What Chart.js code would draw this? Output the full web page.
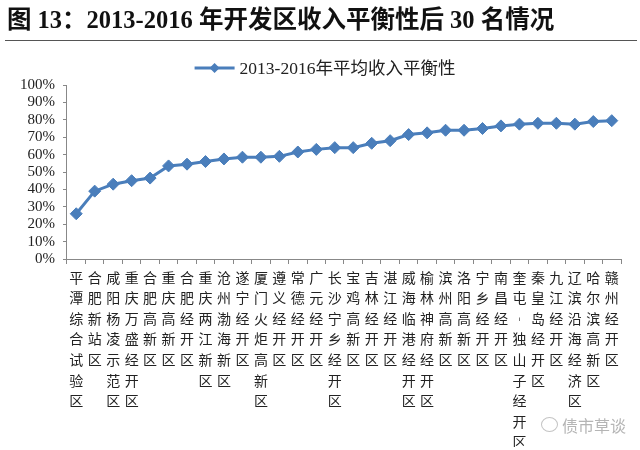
<!DOCTYPE html>
<html>
<head>
<meta charset="utf-8">
<script src="https://cdn.jsdelivr.net/npm/chart.js@4"></script>
<style>
  body { margin: 0; background: #fff; }
  #wrap { position: relative; width: 640px; height: 450px; overflow: hidden; }
  #title {
    position: absolute; left: 7px; top: 0px;
    font: bold 24.5px "Liberation Serif", "Noto Sans CJK SC", serif;
    color: #111; white-space: nowrap;
  }
  #rule { position: absolute; left: 5px; top: 40px; width: 632px; height: 1px; background: #555; }
  #mark {
    position: absolute; left: 562px; top: 413px;
    font: 16px "Noto Sans CJK SC", sans-serif; color: #b5b5b5;
  }
  #icon {
    position: absolute; left: 541px; top: 417px; width: 15px; height: 13px;
    border: 1px solid #c4c4c4; border-radius: 50%;
  }
  canvas { position: absolute; left: 0; top: 0; }
</style>
</head>
<body>
<div id="wrap">
  <canvas id="balanceChart" width="640" height="450"></canvas>
  <div id="title">图 13：2013-2016 年开发区收入平衡性后 30 名情况</div>
  <div id="rule"></div>
  <div id="icon"></div>
  <div id="mark">债市草谈</div>
</div>
<script>
// categories (bottom 30 development zones)
const zones = [
    '平潭综合试验区', '合肥新站区', '咸阳杨凌示范区', '重庆万盛经开区', '合肥高新区',
    '重庆高新区', '合肥经开区', '重庆两江新区', '沧州渤海新区', '遂宁经开区',
    '厦门火炬高新区', '遵义经开区', '常德经开区', '广元经开区', '长沙宁乡经开区',
    '宝鸡高新区', '吉林经开区', '湛江经开区', '威海临港经开区', '榆林神府经开区',
    '滨州高新区', '洛阳高新区', '宁乡经开区', '南昌经开区', '奎屯-独山子经开区',
    '秦皇岛经开区', '九江经开区', '辽滨沿海经济区', '哈尔滨高新区', '赣州经开区'
];
// 2013-2016 average income balance, %
const balance = [
    26, 39, 43, 45, 46.5, 53.5, 54.5, 56, 57.5, 58.5,
    58.5, 59, 61.5, 63, 64, 64, 66.5, 68, 71.5, 72.5,
    74, 74, 75, 76.5, 77.5, 78, 78, 77.5, 79, 79.5
];
const seriesName = '2013-2016年平均收入平衡性';
const yTicks = [0, 10, 20, 30, 40, 50, 60, 70, 80, 90, 100];

const blue = '#4a7ebb';

// legend: line with a diamond, centred above the plot
const lineLegend = {
    id: 'lineLegend',
    afterDraw(chart) {
        const c = chart.ctx;
        c.save();
        c.font = '17.5px "Liberation Serif", "Noto Sans CJK SC", serif';
        const textW = c.measureText(seriesName).width;
        const total = 40 + 5 + textW;
        const x0 = chart.width / 2 + 5 - total / 2;
        const y = 68;
        c.strokeStyle = blue;
        c.lineWidth = 3;
        c.beginPath();
        c.moveTo(x0, y);
        c.lineTo(x0 + 40, y);
        c.stroke();
        c.fillStyle = blue;
        c.beginPath();
        c.moveTo(x0 + 20, y - 5); c.lineTo(x0 + 25, y); c.lineTo(x0 + 20, y + 5); c.lineTo(x0 + 15, y);
        c.closePath();
        c.fill();
        c.fillStyle = '#222';
        c.textBaseline = 'middle';
        c.fillText(seriesName, x0 + 45, y + 1);
        c.restore();
    }
};

const ctx = document.getElementById('balanceChart').getContext('2d');
const balanceChart = new Chart(ctx, {
    type: 'line',
    data: {
        labels: zones,
        datasets: [{
            label: seriesName,
            data: balance,
            borderColor: blue,
            backgroundColor: blue,
            borderWidth: 3,
            tension: 0,
            pointStyle: 'rectRot',
            pointRadius: 6,
            pointBorderWidth: 1,
            pointBackgroundColor: blue,
            pointBorderColor: blue
        }]
    },
    options: {
        responsive: false,
        animation: false,
        layout: {
            padding: { top: 85, left: 12, right: 19, bottom: 3 }
        },
        plugins: {
            legend: { display: false },
            tooltip: { enabled: false }
        },
        scales: {
            y: {
                min: 0,
                max: 100,
                afterBuildTicks: (axis) => { axis.ticks = yTicks.map(v => ({ value: v })); },
                grid: {
                    drawOnChartArea: false,
                    tickLength: 4,
                    color: '#888'
                },
                border: { color: '#888' },
                ticks: {
                    autoSkip: false,
                    padding: 8,
                    color: '#222',
                    font: { family: '"Liberation Serif", serif', size: 15 },
                    callback: (v) => v + '%'
                }
            },
            x: {
                offset: true,
                // keep the tall vertical labels from squeezing the plot
                afterFit: (scale) => { scale.height = 188; },
                grid: {
                    offset: true,
                    drawOnChartArea: false,
                    tickLength: 5,
                    color: '#888'
                },
                border: { color: '#888' },
                ticks: {
                    autoSkip: false,
                    maxRotation: 0,
                    minRotation: 0,
                    padding: 3,
                    color: '#222',
                    font: { family: '"Noto Sans CJK SC", sans-serif', size: 14, lineHeight: '20.6px' },
                    // one character per line, dash shown in vertical form
                    callback: function (v) {
                        return this.getLabelForValue(v).split('').map(ch => ch === '-' ? '︲' : ch);
                    }
                }
            }
        }
    },
    plugins: [lineLegend]
});
</script>
</body>
</html>
